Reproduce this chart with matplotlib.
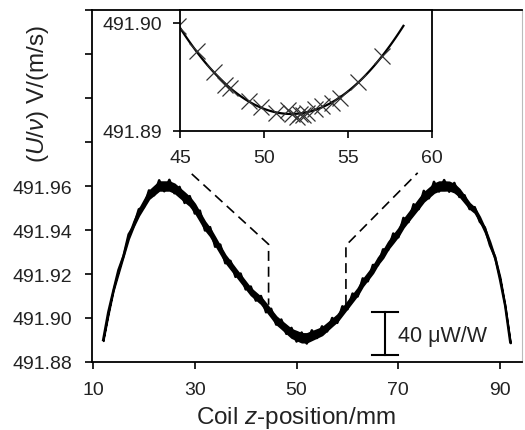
import matplotlib.pyplot as plt
import numpy as np

plt.rcParams['font.family'] = ['Liberation Sans', 'DejaVu Sans']
plt.rcParams['font.size'] = 14
plt.rcParams['mathtext.fontset'] = 'custom'
plt.rcParams['mathtext.rm'] = 'Liberation Sans'
plt.rcParams['mathtext.it'] = 'Liberation Sans:italic'

# main scan: coil z-position (mm) and (U/v) centre values read per mm
z_pos = np.arange(12, 93)
u_centre = [491.890, 491.902, 491.913, 491.921, 491.929, 491.937, 491.943, 491.948, 491.952, 491.956,
            491.958, 491.960, 491.960, 491.960, 491.959, 491.957, 491.955, 491.953, 491.950, 491.946,
            491.942, 491.939, 491.935, 491.931, 491.927, 491.924, 491.921, 491.918, 491.915, 491.912,
            491.910, 491.908, 491.905, 491.902, 491.899, 491.897, 491.895, 491.893, 491.892, 491.891,
            491.891, 491.892, 491.893, 491.894, 491.896, 491.898, 491.900, 491.903, 491.906, 491.909,
            491.912, 491.916, 491.919, 491.922, 491.926, 491.929, 491.933, 491.936, 491.939, 491.943,
            491.946, 491.949, 491.952, 491.955, 491.957, 491.959, 491.960, 491.960, 491.960, 491.959,
            491.957, 491.954, 491.951, 491.949, 491.945, 491.940, 491.934, 491.927, 491.918, 491.905,
            491.889]
# thickness of the noisy trace (half width) and its spikes, in units of 1e-3
u_halfwidth = [0.4, 0.5, 0.6, 0.7, 0.8, 1.0, 1.2, 1.4, 1.6, 1.8,
               1.9, 2.0, 2.0, 2.0, 2.0, 2.0, 2.0, 1.9, 1.9, 1.8,
               1.8, 1.7, 1.7, 1.6, 1.6, 1.6, 1.5, 1.5, 1.5, 1.5,
               1.5, 1.5, 1.6, 1.6, 1.7, 1.7, 1.8, 1.9, 2.0, 2.0,
               2.0, 1.9, 1.8, 1.7, 1.6, 1.5, 1.5, 1.5, 1.5, 1.5,
               1.5, 1.5, 1.5, 1.5, 1.5, 1.6, 1.6, 1.7, 1.7, 1.8,
               1.8, 1.9, 2.0, 2.0, 2.0, 2.0, 2.0, 2.0, 1.9, 1.8,
               1.6, 1.4, 1.2, 1.1, 1.0, 0.9, 0.8, 0.7, 0.6, 0.5,
               0.4]
u_noise = [0, 0.6, -0.6, 0.8, -0.8, 1.0, -1.2, 1.4, -1.6, 2.0,
           -2.2, 2.6, -2.4, 2.8, -2.3, 2.6, -2.7, 2.4, -2.5, 2.8,
           -2.2, 2.3, -2.6, 2.4, -2.1, 2.0, -2.3, 2.2, -2.0, 2.3,
           -2.1, 2.0, -2.4, 2.2, -2.0, 2.3, -2.2, 2.5, -2.7, 2.4,
           -2.6, 2.4, -2.1, 2.2, -2.1, 2.0, -2.2, 2.3, -2.0, 2.1,
           -2.2, 2.0, -2.3, 2.1, -2.0, 2.2, -2.1, 2.4, -2.3, 2.5,
           -2.4, 2.7, -2.5, 2.8, -2.6, 2.9, -2.5, 2.7, -2.6, 2.4,
           -2.0, 1.8, -1.5, 1.4, -1.2, 1.1, -0.9, 0.8, -0.7, 0.6,
           0]

# inset: measured points near the minimum
ins_z = [44.9, 46.0, 47.0, 47.7, 48.0, 49.1, 49.8, 50.7, 51.4, 51.65, 51.95,
         52.15, 52.3, 52.55, 53.05, 53.45, 54.05, 54.5, 55.6, 57.0]
ins_u = [491.8997, 491.8974, 491.8955, 491.8943, 491.8940, 491.8928, 491.8922, 491.8917,
         491.8919, 491.8916, 491.8913, 491.8916, 491.8915, 491.8917, 491.8920, 491.8923,
         491.8926, 491.8931, 491.8945, 491.8969]

# dashed guide lines linking inset to main trace
guide_left_z = [29.4, 44.5, 44.5]
guide_left_u = [491.9655, 491.9335, 491.9060]
guide_right_z = [59.7, 59.7, 73.8]
guide_right_u = [491.9060, 491.9330, 491.9660]

fig = plt.figure(figsize=(5.25, 4.31), dpi=100)
ax = fig.add_axes([92/525, 68/431, 430/525, 352/431])

c = np.array(u_centre)
hw = np.array(u_halfwidth) * 1e-3
ax.fill_between(z_pos, c - hw, c + hw, facecolor='black', edgecolor='black', lw=1.2)
ax.plot(z_pos, c + np.array(u_noise) * 1e-3, color='black', lw=1.8)

ax.plot(guide_left_z, guide_left_u, color='black', lw=1.2, dashes=(6, 3.5))
ax.plot(guide_right_z, guide_right_u, color='black', lw=1.2, dashes=(6, 3.5))

# 40 uW/W scale bar
bar_z = 67.4
bar_mid = 491.893
bar_len = 40e-6 * 491.92
ax.plot([bar_z, bar_z], [bar_mid - bar_len/2, bar_mid + bar_len/2], color='black', lw=1.5)
ax.plot([bar_z - 2.5, bar_z + 2.5], [bar_mid - bar_len/2] * 2, color='black', lw=1.5)
ax.plot([bar_z - 2.5, bar_z + 2.5], [bar_mid + bar_len/2] * 2, color='black', lw=1.5)
ax.text(69.9, bar_mid - 0.0008, '40 \u03bcW/W', ha='left', va='center', color='#222222', fontsize=15.5)

ax.set_xlim(9.8, 94.3)
ax.set_ylim(491.88, 492.04)
ax.set_xticks([10, 30, 50, 70, 90])
yt = np.arange(491.88, 492.041, 0.02)
ax.set_yticks(yt)
ax.set_yticklabels(['%.2f' % v if v < 491.97 else '' for v in yt])
ax.tick_params(direction='out', length=5, width=1.2, pad=9, colors='black', labelcolor='#222222')
for s in ['left', 'bottom', 'top']:
    ax.spines[s].set_linewidth(1.3)
ax.spines['right'].set_color('#bbbbbb')
ax.spines['right'].set_linewidth(0.8)

ax.set_xlabel('Coil $z$-position/mm', color='#222222', fontsize=17.5)
ax.xaxis.set_label_coords(0.473, -0.12)
ax.text(-0.126, 0.764, '($U$/$\u03bd$) V/(m/s)', rotation=90, transform=ax.transAxes,
        ha='center', va='center', color='#222222', fontsize=17.5)

# inset
axi = fig.add_axes([180/525, 299/431, 252/525, 121/431])
coef = np.polyfit(ins_z, ins_u, 2)
zf = np.linspace(45, 58.3, 100)
axi.plot(zf, np.polyval(coef, zf), color='black', lw=1.6)
axi.plot(ins_z, ins_u, linestyle='none', marker='x', ms=11, mew=0.9, color='#333333')
axi.set_xlim(45, 60)
axi.set_ylim(491.89, 491.9012)
axi.set_xticks([45, 50, 55, 60])
axi.set_yticks([491.89, 491.90])
axi.set_yticklabels(['491.89', '491.90'])
axi.tick_params(direction='out', length=5, width=1.2, pad=8, colors='black', labelcolor='#222222')
for s in axi.spines.values():
    s.set_linewidth(1.3)

fig.savefig('out.png', dpi=100)
